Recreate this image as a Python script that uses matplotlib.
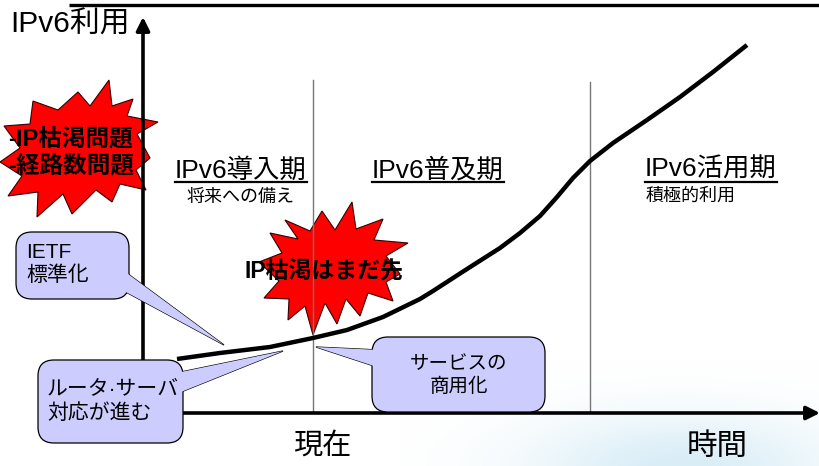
import numpy as np
import matplotlib
matplotlib.use("Agg")
import matplotlib.pyplot as plt
from matplotlib.patches import FancyBboxPatch, Polygon

plt.rcParams['font.family'] = ['Liberation Sans', 'Noto Sans CJK JP', 'DejaVu Sans']

# ---- data (pixel-space diagram coordinates) ----
curve_x = [177, 220, 270, 313, 347, 383, 420, 433, 467, 500, 520, 540, 557, 573, 590,
           613, 647, 680, 713, 747]
curve_y = [359, 353, 347, 338, 330, 317, 299, 291, 269, 248, 233, 216, 197, 178, 161,
           143, 120, 97, 72, 45]

phase_names = ["IPv6導入期", "IPv6普及期", "IPv6活用期"]
phase_x = [241, 438, 711]
phase_sub = ["将来への備え", "", "積極的利用"]
divider_x = [313, 590]

W, H = 820, 466
fig = plt.figure(figsize=(W / 100, H / 100), dpi=100)
ax = fig.add_axes([0, 0, 1, 1])
ax.set_xlim(0, W)
ax.set_ylim(H, 0)
ax.axis('off')

# faint background glow bottom right
xs = np.linspace(400, 820, 210)
ys = np.linspace(360, 466, 60)
GX, GY = np.meshgrid(xs, ys)
alpha = 0.5 * np.exp(-((GX - 680) / 150) ** 2 - ((GY - 470) / 55) ** 2)
img = np.zeros((60, 210, 4))
img[..., 0] = 0.70
img[..., 1] = 0.86
img[..., 2] = 0.94
img[..., 3] = alpha
ax.imshow(img, extent=(400, 820, 466, 360), origin='upper', zorder=0, aspect='auto',
          interpolation='bilinear')

# starbursts (decorative shapes)
star1 = [(109, 80), (112, 106), (133, 99), (127, 116), (158, 122), (137, 134),
         (150, 158), (136, 170), (146, 190), (120, 184), (112, 202), (96, 190),
         (72, 214), (63, 194), (37, 217), (38, 192), (8, 196), (22, 176),
         (0, 162), (20, 148), (4, 126), (30, 124), (33, 101), (58, 110),
         (78, 92), (90, 106)]
star2 = [(352, 202), (356, 229), (383, 219), (374, 240), (408, 243), (386, 256),
         (400, 274), (386, 282), (393, 301), (368, 293), (360, 316), (346, 299),
         (337, 324), (325, 303), (313, 335), (305, 306), (288, 320), (289, 299),
         (264, 298), (279, 281), (259, 262), (282, 253), (270, 233), (298, 239),
         (285, 220), (310, 231), (322, 211), (335, 230)]
for pts in (star1, star2):
    ax.add_patch(Polygon(pts, closed=True, facecolor='#ff0000', edgecolor='#330000',
                         lw=0.8, zorder=0.5))

# top line
ax.plot([69, 820], [5, 5], color='k', lw=2.4, solid_capstyle='butt', zorder=2)

# dividers
for dx, top in zip(divider_x, [80, 82]):
    ax.plot([dx, dx], [top, 413], color='#777777', lw=1.0, zorder=1)

# axes arrows
ax.annotate('', xy=(143, 17), xytext=(143, 414),
            arrowprops=dict(arrowstyle='-|>', lw=2.6, color='k', mutation_scale=20,
                            shrinkA=0, shrinkB=0), zorder=2)
ax.annotate('', xy=(820, 413), xytext=(142, 413),
            arrowprops=dict(arrowstyle='-|>', lw=2.6, color='k', mutation_scale=20,
                            shrinkA=0, shrinkB=0), zorder=2)

ax.text(10, 25, "IPv6利用", fontsize=21.5, va='center', ha='left', zorder=3)
ax.text(322, 446, "現在", fontsize=21, va='center', ha='center', zorder=3)
ax.text(717, 447, "時間", fontsize=22, va='center', ha='center', zorder=3)

# curve
ax.plot(curve_x, curve_y, color='k', lw=3.2, solid_capstyle='butt',
        solid_joinstyle='round', zorder=4)

# phase labels with underline
fig.canvas.draw()
renderer = fig.canvas.get_renderer()
inv = ax.transData.inverted()
for name, px, sub in zip(phase_names, phase_x, phase_sub):
    t = ax.text(px, 170, name, fontsize=19, ha='center', va='center', zorder=3)
    bb = t.get_window_extent(renderer)
    (x0, _), (x1, _) = inv.transform([(bb.x0, bb.y0), (bb.x1, bb.y0)])
    ax.plot([x0, x1], [182, 182], color='k', lw=1.6, zorder=3)
    if sub:
        if px < 400:
            ax.text(px, 197, sub, fontsize=13, ha='center', va='center', zorder=3)
        else:
            ax.text(x0, 196, sub, fontsize=13, ha='left', va='center', zorder=3)

ax.text(8, 139, "-IP枯渇問題", fontsize=17, fontweight='bold', ha='left', va='center', zorder=6)
ax.text(8, 166, "-経路数問題", fontsize=17, fontweight='bold', ha='left', va='center', zorder=6)
ax.text(245, 272, "IP枯渇はまだ先", fontsize=16.5, fontweight='bold', ha='left', va='center', zorder=6)


def callout(x, y, w, h, base, tip, z):
    fc = '#ccccff'
    tri = [base[0], tip, base[1]]
    ax.add_patch(Polygon(tri, closed=True, facecolor=fc, edgecolor='k', lw=0.9, zorder=z))
    ax.add_patch(FancyBboxPatch((x, y), w, h, boxstyle="round,pad=0,rounding_size=16",
                                facecolor=fc, edgecolor='k', lw=0.9, zorder=z + 0.1))
    ax.add_patch(Polygon(tri, closed=True, facecolor=fc, edgecolor='none', zorder=z + 0.2))


callout(16, 232, 113, 67, [(124, 271), (124, 291)], (224, 345), 7)
ax.text(26, 264, "IETF\n標準化", fontsize=15, ha='left', va='center', linespacing=1.25, zorder=8)

callout(38, 360, 145, 83, [(176, 373), (176, 394)], (283, 351), 7)
ax.text(47, 401, "ルータ·サーバ\n対応が進む", fontsize=15, ha='left', va='center', linespacing=1.3, zorder=8)

callout(372, 337, 173, 75, [(380, 350), (380, 368)], (316, 347), 7)
ax.text(459, 376, "サービスの\n商用化", fontsize=14, ha='center', va='center', linespacing=1.3, zorder=8)

fig.savefig("out.png", dpi=100)
